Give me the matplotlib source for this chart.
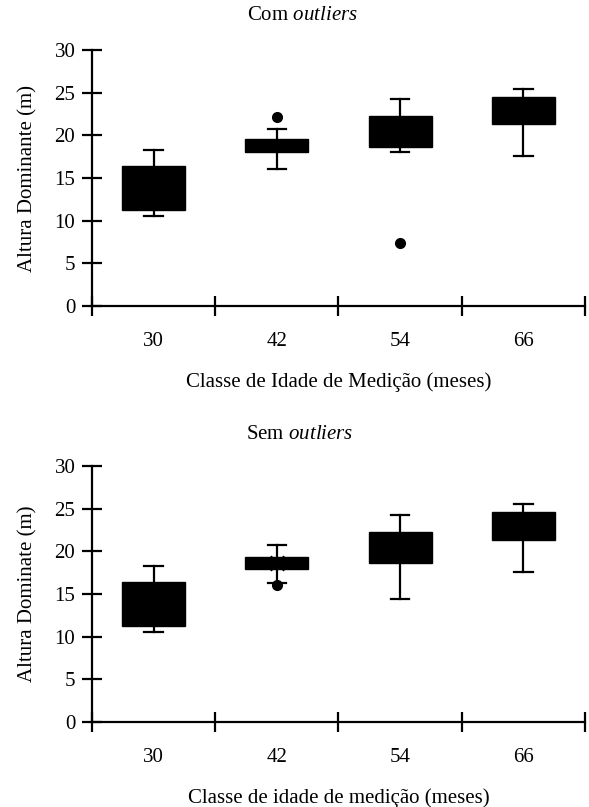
import matplotlib
matplotlib.use("Agg")
import matplotlib.pyplot as plt

plt.rcParams['font.family'] = ['Liberation Serif', 'DejaVu Serif']
plt.rcParams['mathtext.fontset'] = 'custom'
plt.rcParams['mathtext.rm'] = 'Liberation Serif'
plt.rcParams['mathtext.it'] = 'Liberation Serif:italic'

# Classes de idade (meses)
classes = ["30", "42", "54", "66"]

# Com outliers: limites das caixas e bigodes (m)
com_whislo = [10.5, 16.1, 18.0, 17.6]
com_q1 = [11.3, 18.0, 18.6, 21.3]
com_q3 = [16.4, 19.6, 22.3, 24.5]
com_whishi = [18.3, 20.7, 24.3, 25.4]
com_fliers = [[], [22.1], [7.4], []]

# Sem outliers
sem_whislo = [10.5, 16.3, 14.4, 17.6]
sem_q1 = [11.3, 17.9, 18.6, 21.3]
sem_q3 = [16.4, 19.3, 22.3, 24.6]
sem_whishi = [18.3, 20.7, 24.3, 25.5]
sem_fliers = [[], [16.1], [], []]
sem_media_42 = 18.6

FS = 15


def montar_stats(wlo, q1, q3, whi, fliers):
    stats = []
    for i in range(len(classes)):
        stats.append({"whislo": wlo[i], "q1": q1[i], "med": (q1[i] + q3[i]) / 2,
                      "q3": q3[i], "whishi": whi[i], "fliers": fliers[i]})
    return stats


def desenhar(ax, stats, ylabel, xlabel):
    pos = [i + 0.5 for i in range(len(classes))]
    ax.bxp(stats, positions=pos, widths=0.51, capwidths=0.15, patch_artist=True,
           boxprops=dict(facecolor='black', edgecolor='black', linewidth=1),
           medianprops=dict(color='black', linewidth=0),
           whiskerprops=dict(color='black', linewidth=1.6),
           capprops=dict(color='black', linewidth=1.6),
           flierprops=dict(marker='o', markerfacecolor='black', markeredgecolor='black',
                           markersize=7))
    ax.set_xlim(0, len(classes))
    ax.set_ylim(0, 30)
    ax.set_yticks(range(0, 31, 5))
    ax.set_xticks(range(0, len(classes) + 1))
    ax.set_xticklabels([])
    ax.set_xticks(pos, minor=True)
    ax.set_xticklabels(classes, minor=True)
    ax.tick_params(axis='x', which='minor', length=0, pad=19, labelsize=FS)
    ax.tick_params(axis='both', which='major', direction='inout', length=14, width=1.6,
                   labelsize=FS, pad=5)
    for s in ['top', 'right']:
        ax.spines[s].set_visible(False)
    for s in ['left', 'bottom']:
        ax.spines[s].set_linewidth(1.6)
    ax.set_ylabel(ylabel, fontsize=FS, labelpad=12)
    ax.set_xlabel(xlabel, fontsize=FS, labelpad=15)


fig = plt.figure(figsize=(5.89, 8.07), dpi=100)
ax1 = fig.add_axes([0.1562, 0.6208, 0.837, 0.3172])
ax2 = fig.add_axes([0.1562, 0.1053, 0.837, 0.3172])

desenhar(ax1, montar_stats(com_whislo, com_q1, com_q3, com_whishi, com_fliers),
         "Altura Dominante (m)", "Classe de Idade de Medição (meses)")
desenhar(ax2, montar_stats(sem_whislo, sem_q1, sem_q3, sem_whishi, sem_fliers),
         "Altura Dominate (m)", "Classe de idade de medição (meses)")
ax2.plot([1.5], [sem_media_42], marker='x', color='black', markersize=10.5, mew=2)

fig.text(302 / 589, 1 - 16 / 807, r"Com $\mathit{outliers}$", fontsize=FS,
         ha='center', va='center')
fig.text(300 / 589, 1 - 435 / 807, r"Sem $\mathit{outliers}$", fontsize=FS,
         ha='center', va='center')

fig.savefig("out.png", dpi=100)
